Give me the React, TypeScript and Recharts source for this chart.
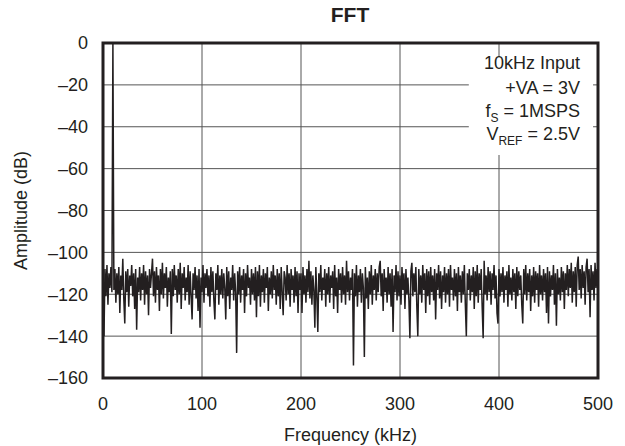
import React from 'react';
import {
  LineChart,
  Line,
  XAxis,
  YAxis,
  CartesianGrid,
  ReferenceArea,
} from 'recharts';

// amplitude (dB) per 1 kHz bin in 100 kHz chunks
const amp0to99 = [
  -118, -140, -108, -121, -106, -125, -110, -117, -107, -119,
  0, -118, -108, -124, -110, -120, -107, -129, -111, -118,
  -103, -122, -134, -109, -119, -108, -126, -111, -116, -106,
  -121, -110, -127, -108, -137, -112, -119, -107, -123, -110,
  -118, -106, -125, -109, -120, -111, -130, -108, -117, -110,
  -103, -121, -109, -124, -107, -118, -111, -128, -108, -120,
  -105, -122, -110, -117, -107, -126, -112, -119, -109, -139,
  -108, -121, -106, -118, -111, -124, -108, -120, -105, -127,
  -110, -117, -107, -123, -112, -119, -106, -125, -109, -121,
  -132, -110, -118, -107, -122, -111, -128, -108, -136, -112,
];
const amp100to199 = [
  -119, -106, -124, -110, -117, -108, -121, -111, -126, -107,
  -119, -109, -123, -132, -110, -118, -106, -125, -111, -120,
  -108, -122, -110, -117, -132, -107, -121, -109, -127, -112,
  -118, -106, -123, -110, -119, -148, -109, -120, -107, -124,
  -111, -118, -108, -129, -110, -121, -106, -117, -112, -125,
  -108, -120, -110, -123, -107, -131, -109, -121, -106, -126,
  -111, -119, -108, -124, -110, -117, -107, -128, -112, -120,
  -109, -122, -106, -118, -111, -125, -108, -121, -110, -127,
  -107, -119, -130, -109, -112, -123, -106, -120, -110, -126,
  -108, -118, -111, -124, -107, -121, -109, -129, -110, -118,
];
const amp200to299 = [
  -110, -129, -107, -120, -111, -124, -108, -119, -104, -122,
  -109, -125, -111, -118, -136, -107, -121, -138, -110, -119,
  -106, -123, -112, -118, -108, -126, -110, -120, -107, -124,
  -111, -117, -109, -127, -106, -121, -112, -129, -108, -118,
  -110, -124, -107, -120, -111, -125, -104, -119, -109, -123,
  -112, -118, -108, -154, -110, -121, -106, -126, -111, -119,
  -108, -124, -110, -117, -150, -107, -122, -112, -127, -109,
  -120, -106, -125, -111, -118, -108, -123, -110, -119, -107,
  -104, -121, -110, -128, -108, -119, -112, -124, -107, -120,
  -110, -126, -108, -138, -111, -119, -106, -123, -109, -121,
];
const amp300to399 = [
  -111, -125, -107, -118, -110, -127, -108, -120, -112, -123,
  -141, -109, -105, -121, -110, -119, -107, -126, -140, -108,
  -120, -111, -124, -106, -118, -110, -129, -108, -121, -109,
  -125, -107, -119, -111, -123, -108, -132, -110, -118, -106,
  -122, -109, -127, -111, -119, -107, -124, -110, -120, -108,
  -126, -106, -118, -112, -123, -108, -121, -110, -128, -107,
  -119, -111, -124, -109, -120, -106, -125, -140, -110, -118,
  -108, -123, -111, -119, -107, -127, -109, -121, -106, -124,
  -110, -118, -108, -126, -141, -104, -120, -111, -123, -107,
  -119, -109, -125, -110, -118, -106, -122, -111, -129, -134,
];
const amp400to500 = [
  -108, -121, -110, -119, -107, -124, -111, -118, -109, -126,
  -106, -120, -112, -123, -108, -119, -110, -127, -107, -121,
  -109, -118, -111, -125, -134, -108, -120, -106, -123, -110,
  -119, -108, -128, -111, -121, -107, -124, -109, -118, -110,
  -126, -106, -120, -111, -123, -108, -119, -110, -129, -107,
  -134, -109, -121, -111, -118, -106, -125, -110, -135, -108,
  -120, -112, -123, -107, -119, -109, -127, -110, -118, -106,
  -121, -108, -117, -105, -124, -109, -119, -107, -126, -106,
  -102, -118, -108, -122, -106, -117, -109, -125, -107, -103,
  -119, -108, -131, -106, -118, -109, -123, -105, -117, -108,
  -120,
];

const xTicks = [0, 100, 200, 300, 400, 500];
const yTicks = [0, -20, -40, -60, -80, -100, -120, -140, -160];

const data = [...amp0to99, ...amp100to199, ...amp200to299, ...amp300to399, ...amp400to500].map(
  (amp, i) => ({ freq: i, amp })
);

const FONT = "'Liberation Sans', Arial, Helvetica, sans-serif";
const INK = '#231f20';

const fmtDb = (v: number) => (v < 0 ? `\u2013${-v}` : `${v}`);

const sub = (t: string) => (
  <span style={{ fontSize: 12, position: 'relative', top: 5 }}>{t}</span>
);

const noteLine = (top: number, content: React.ReactNode) => (
  <div
    style={{
      position: 'absolute',
      right: 625 - 580,
      top,
      fontSize: 18,
      lineHeight: '21px',
      whiteSpace: 'nowrap',
      color: INK,
    }}
  >
    {content}
  </div>
);

export default function App() {
  return (
    <div style={{ position: 'absolute', left: 0, top: 0, width: 625, height: 446, fontFamily: FONT, background: '#fff' }}>
      <div
        style={{
          position: 'absolute',
          left: 0,
          width: 700,
          top: 3,
          textAlign: 'center',
          fontWeight: 'bold',
          fontSize: 21,
          color: INK,
        }}
      >
        FFT
      </div>
      <LineChart
        width={625}
        height={446}
        data={data}
        margin={{ top: 43, right: 27, bottom: 0, left: 0 }}
      >
        <CartesianGrid stroke="#555" strokeWidth={1} />
        <XAxis
          dataKey="freq"
          type="number"
          domain={[0, 500]}
          ticks={xTicks}
          axisLine={false}
          tickLine={false}
          tickSize={0}
          tickMargin={19}
          height={68}
          tick={{ fontSize: 18, fill: INK, fontFamily: FONT }}
          label={{ value: 'Frequency (kHz)', position: 'insideBottom', offset: 5, fontSize: 18, fill: INK, fontFamily: FONT }}
        />
        <YAxis
          type="number"
          domain={[-160, 0]}
          ticks={yTicks}
          tickFormatter={fmtDb}
          axisLine={false}
          tickLine={false}
          tickSize={0}
          tickMargin={15}
          width={103}
          tick={{ fontSize: 18, fill: INK, fontFamily: FONT }}
          label={{
            value: 'Amplitude (dB)',
            angle: -90,
            position: 'insideLeft',
            offset: 21,
            fontSize: 18,
            fill: INK,
            fontFamily: FONT,
            style: { textAnchor: 'middle' },
          }}
        />
        <ReferenceArea x1={369.5} x2={495} y1={-53.5} y2={-6.7} fill="#fff" fillOpacity={1} stroke="none" />
        <Line
          type="linear"
          dataKey="amp"
          stroke={INK}
          strokeWidth={1.5}
          dot={false}
          isAnimationActive={false}
        />
        <ReferenceArea x1={0} x2={500} y1={-160} y2={0} fill="none" stroke={INK} strokeWidth={3} />
      </LineChart>
      {noteLine(53, '10kHz Input')}
      {noteLine(78, '+VA = 3V')}
      {noteLine(101, <>f{sub('S')} = 1MSPS</>)}
      {noteLine(124, <>V{sub('REF')} = 2.5V</>)}
    </div>
  );
}
